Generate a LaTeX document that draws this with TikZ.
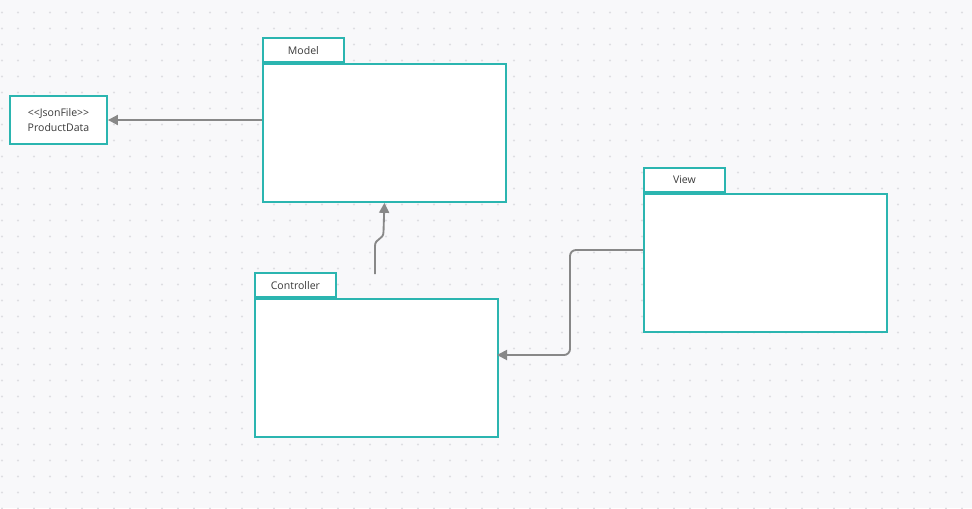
\documentclass[tikz,border=0pt]{standalone}
\usepackage{fontspec}
\setmainfont[Ligatures=NoCommon]{Open Sans}
\usetikzlibrary{arrows.meta}

\definecolor{pkgteal}{RGB}{43,181,176}
\definecolor{linkgrey}{RGB}{136,136,136}
\definecolor{bggrey}{RGB}{248,248,250}
\definecolor{dotgrey}{RGB}{222,222,226}
\definecolor{txtgrey}{RGB}{58,58,58}

\tikzset{every picture/.style={line width=0.75pt}}
\tikzset{
  pkgbody/.style={draw=pkgteal, fill=white, line width=1.4pt, inner sep=0pt,
    minimum width=182.25pt, minimum height=103.5pt, anchor=north west},
  pkgtab/.style={draw=pkgteal, fill=white, line width=1.4pt, inner sep=0pt,
    minimum width=60.75pt, minimum height=18pt, anchor=south west,
    text=txtgrey, font=\fontsize{7.9}{9}\selectfont},
  filebox/.style={draw=pkgteal, fill=white, line width=1.4pt, inner sep=0pt,
    minimum width=72.75pt, minimum height=36pt, align=center,
    text=txtgrey, font=\fontsize{7.9}{11.5}\selectfont},
  link/.style={draw=linkgrey, line width=1.4pt, -{Triangle[length=7.5pt,width=7.5pt]}}
}

\begin{document}
\begin{tikzpicture}[x=0.75pt,y=0.75pt,yscale=-1,xscale=1]
  % canvas with dot grid
  \fill[bggrey] (0,0) rectangle (972,508);
  \useasboundingbox (0,0) rectangle (972,508);
  \foreach \gx in {0,...,60}
    \foreach \gy in {0,...,31}
      \fill[dotgrey] (2+16*\gx,12.5+16*\gy) circle (0.9pt);

  % json file
  \node[filebox] (json) at (58.5,120) {{<}{<}JsonFile{>}{>}\\ProductData};

  % packages
  \node[pkgbody] (model) at (262,63) {};
  \node[pkgtab] (modeltab) at (model.north west) {Model};
  \node[pkgbody] (controller) at (254,298) {};
  \node[pkgtab] (controllertab) at (controller.north west) {Controller};
  \node[pkgbody] (view) at (643,193) {};
  \node[pkgtab] (viewtab) at (view.north west) {View};

  % connectors
  \coordinate (ctop) at (375,274);
  \coordinate (vout) at (643,250);
  \coordinate (cin) at (497,355);
  \draw[link] (model.west |- json.east) -- (json.east);
  \draw[link] (ctop) -- (375,246) .. controls (375,238) and (383.5,240) .. (383.5,232) -- (model.south);
  \draw[link, rounded corners=4.5pt] (vout) -- (570,250) -- (570,355) -- (cin);
\end{tikzpicture}
\end{document}
